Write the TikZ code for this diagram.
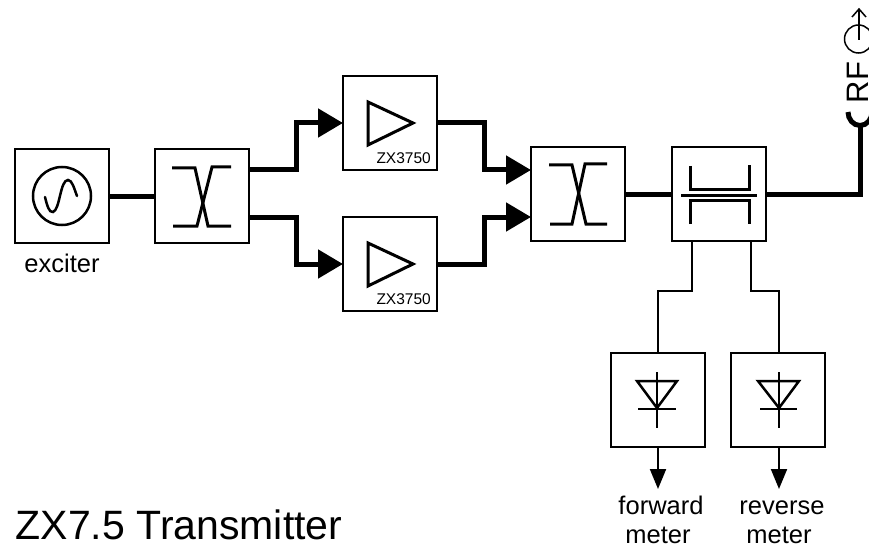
\documentclass[tikz,border=0pt]{standalone}
\usepackage{fontspec}
\setmainfont{Liberation Sans}
\usetikzlibrary{arrows.meta}
\tikzset{
  blockbox/.style={draw,line width=2pt,minimum width=94pt,minimum height=94pt,inner sep=0pt,outer sep=0pt},
  feedline/.style={line width=5pt,miter limit=10},
  feedarrow/.style={feedline,-{Triangle[length=25pt,width=28pt]}},
  thinline/.style={line width=2pt},
  meterarrow/.style={thinline,-{Triangle[length=20pt,width=16pt]}},
  glyph/.style={line width=3pt},
  thinglyph/.style={line width=2.5pt},
  lbl/.style={font=\fontsize{25.5}{29}\selectfont,inner sep=0pt,anchor=base},
  part/.style={font=\fontsize{15.5}{18}\selectfont,inner sep=0pt,anchor=base east},
}
\begin{document}
\begin{tikzpicture}[x=1pt,y=-1pt]
\useasboundingbox (0,0) rectangle (869,548);
\clip (0,0) rectangle (869,548);
% blocks
\node[blockbox] (exc) at (62,196) {};
\node[blockbox] (c1) at (202,196) {};
\node[blockbox] (a1) at (390,123) {};
\node[blockbox] (a2) at (390,264) {};
\node[blockbox] (c2) at (578,194) {};
\node[blockbox] (dc) at (718.5,194) {};
\node[blockbox] (d1) at (658,400) {};
\node[blockbox] (d2) at (778,400) {};
% antenna end
\coordinate (ant) at (860,125);
\coordinate (m1) at (658,489);
\coordinate (m2) at (779,489);
% connectors
\draw[feedline] (exc.east) -- (c1.west);
\draw[feedarrow] ([yshift=26pt]c1.east) -- (296,170) -- (296,123) -- (a1.west);
\draw[feedarrow] ([yshift=-21pt]c1.east) -- (296,217) -- (296,264) -- (a2.west);
\draw[feedarrow] (a1.east) -- (484,123) -- (484,170) -- ([yshift=24pt]c2.west);
\draw[feedarrow] (a2.east) -- (484,264) -- (484,217) -- ([yshift=-23pt]c2.west);
\draw[feedline] (c2.east) -- (dc.west);
\draw[feedline] (dc.east) -- (860,194) -- (ant);
\draw[thinline] (dc.south -| 692,0) -- (692,291) -- (658,291) -- (658,353);
\draw[thinline] (dc.south -| 751,0) -- (751,291) -- (779,291) -- (779,353);
\draw[meterarrow] (d1.south) -- (m1);
\draw[meterarrow] (d2.south -| m2) -- (m2);
% exciter symbol
\draw[thinglyph] (exc.center) circle[radius=29pt];
\draw[thinglyph,line cap=round] (45,197) .. controls (47,205) and (49,213) .. (53,212) .. controls (60,210) and (60,180) .. (68,180) .. controls (72,180) and (74,188) .. (77,196);
% hybrid couplers
\draw[glyph] (172,168) -- (195,168) -- (208,226) -- (231,226);
\draw[glyph] (173,226) -- (197,226) -- (212,167) -- (231,167);
\draw[glyph] (549,165) -- (572,165) -- (586,224) -- (607,224);
\draw[glyph] (550,224) -- (572,224) -- (585,164) -- (607,164);
% directional coupler
\draw[glyph] (690,166) -- (690,189) -- (749,189) -- (749,165);
\draw[glyph] (681,195) -- (757,195);
\draw[glyph] (690,224) -- (690,200) -- (749,200) -- (749,224);
% amplifiers
\draw[glyph,miter limit=10] (368,102) -- (413,123) -- (368,145) -- cycle;
\draw[glyph,miter limit=10] (368,243) -- (413,264) -- (368,286) -- cycle;
% detectors
\draw[thinglyph,miter limit=10] (637,381) -- (677,381) -- (657,408) -- cycle;
\draw[thinglyph] (638,409) -- (676,409);
\draw[thinglyph] (657,372) -- (657,428);
\draw[thinglyph,miter limit=10] (758,381) -- (799,381) -- (779,408) -- cycle;
\draw[thinglyph] (760,409) -- (797,409);
\draw[thinglyph] (779,372) -- (779,428);
% antenna
\draw[line width=5pt] (848,112) .. controls (848,119) and (853,125.5) .. (860,125.5) .. controls (867,125.5) and (872,119) .. (872,112);
\draw[line width=1.5pt] (858.5,39) circle[radius=14pt];
\draw[line width=1.5pt] (859,40) -- (859,9);
\draw[line width=1.5pt] (852,17) -- (859,9) -- (866,17);
% labels
\node[lbl] (texc) at (62,272) {exciter};
\node[part] (p1) at (431,164) {ZX3750};
\node[part] (p2) at (431,304) {ZX3750};
\node[lbl] (f1) at (661,514) {forward};
\node[lbl] (f2) at (658,543) {meter};
\node[lbl] (r1) at (782,514) {reverse};
\node[lbl] (r2) at (779,543) {meter};
\node[font=\fontsize{31}{34}\selectfont,inner sep=0pt,anchor=base,rotate=90] (rf) at (868.5,82.5) {RF};
\node[font=\fontsize{41}{46}\selectfont,inner sep=0pt,anchor=base west] (title) at (15.5,539) {ZX7.5 Transmitter};
\end{tikzpicture}
\end{document}
